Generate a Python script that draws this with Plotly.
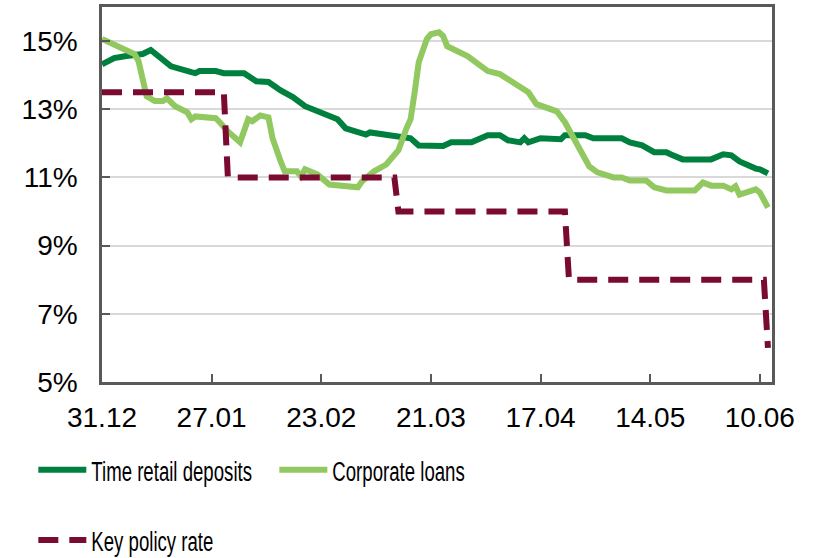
import plotly.graph_objects as go

# Time retail deposits, % (observation dates and values)
deposit_dates = [
    "2019-12-31", "2020-01-03", "2020-01-06", "2020-01-10", "2020-01-12", "2020-01-15",
    "2020-01-17", "2020-01-22", "2020-01-23", "2020-01-24", "2020-01-28", "2020-01-30",
    "2020-02-04", "2020-02-07", "2020-02-10", "2020-02-13", "2020-02-16", "2020-02-19",
    "2020-02-24", "2020-02-27", "2020-02-29", "2020-03-03", "2020-03-05", "2020-03-06",
    "2020-03-11", "2020-03-13", "2020-03-16", "2020-03-18", "2020-03-24", "2020-03-26",
    "2020-03-31", "2020-04-04", "2020-04-07", "2020-04-09", "2020-04-12", "2020-04-13",
    "2020-04-14", "2020-04-17", "2020-04-22", "2020-04-23", "2020-04-28", "2020-04-30",
    "2020-05-07", "2020-05-09", "2020-05-12", "2020-05-15", "2020-05-18", "2020-05-19",
    "2020-05-22", "2020-05-29", "2020-06-01", "2020-06-03", "2020-06-05", "2020-06-09",
    "2020-06-10", "2020-06-12",
]
deposit_rates = [
    14.32, 14.50, 14.56, 14.62, 14.74, 14.45,
    14.26, 14.09, 14.06, 14.12, 14.12, 14.06,
    14.06, 13.82, 13.80, 13.55, 13.36, 13.09,
    12.85, 12.71, 12.44, 12.32, 12.26, 12.32,
    12.24, 12.18, 12.15, 11.94, 11.92, 12.03,
    12.03, 12.24, 12.24, 12.09, 12.03, 12.15,
    12.03, 12.15, 12.12, 12.24, 12.24, 12.15,
    12.15, 12.03, 11.94, 11.74, 11.74, 11.68,
    11.53, 11.53, 11.68, 11.65, 11.47, 11.26,
    11.24, 11.12,
]

# Corporate loans, %
loan_dates = [
    "2019-12-31", "2020-01-08", "2020-01-09", "2020-01-11", "2020-01-13", "2020-01-15",
    "2020-01-16", "2020-01-18", "2020-01-21", "2020-01-22", "2020-01-23", "2020-01-28",
    "2020-01-29", "2020-01-31", "2020-02-03", "2020-02-05", "2020-02-06", "2020-02-08",
    "2020-02-10", "2020-02-11", "2020-02-13", "2020-02-14", "2020-02-17", "2020-02-18",
    "2020-02-19", "2020-02-22", "2020-02-25", "2020-02-28", "2020-03-03", "2020-03-04",
    "2020-03-07", "2020-03-10", "2020-03-12", "2020-03-13", "2020-03-15", "2020-03-16",
    "2020-03-17", "2020-03-18", "2020-03-20", "2020-03-21", "2020-03-23", "2020-03-24",
    "2020-03-25", "2020-03-27", "2020-03-30", "2020-04-04", "2020-04-07", "2020-04-09",
    "2020-04-12", "2020-04-14", "2020-04-16", "2020-04-19", "2020-04-21", "2020-04-23",
    "2020-04-25", "2020-04-27", "2020-04-29", "2020-05-01", "2020-05-05", "2020-05-07",
    "2020-05-09", "2020-05-13", "2020-05-15", "2020-05-18", "2020-05-25", "2020-05-27",
    "2020-05-29", "2020-06-01", "2020-06-03", "2020-06-04", "2020-06-05", "2020-06-09",
    "2020-06-10", "2020-06-12",
]
loan_rates = [
    15.06, 14.62, 14.41, 13.38, 13.24, 13.24,
    13.32, 13.09, 12.91, 12.71, 12.79, 12.74,
    12.62, 12.35, 12.03, 12.71, 12.65, 12.82,
    12.76, 12.15, 11.47, 11.18, 11.18, 11.03,
    11.24, 11.09, 10.79, 10.76, 10.71, 10.88,
    11.18, 11.38, 11.62, 11.80, 12.45, 12.71,
    13.50, 14.38, 15.06, 15.20, 15.26, 15.15,
    14.85, 14.74, 14.56, 14.12, 14.03, 13.88,
    13.68, 13.50, 13.15, 13.00, 12.94, 12.62,
    12.21, 11.74, 11.32, 11.15, 11.00, 11.00,
    10.91, 10.91, 10.71, 10.62, 10.62, 10.85,
    10.76, 10.76, 10.65, 10.74, 10.50, 10.65,
    10.56, 10.12,
]

# Key policy rate, % (last day before and first day after each change)
policy_dates = [
    "2019-12-31", "2020-01-30", "2020-01-31", "2020-03-12", "2020-03-13",
    "2020-04-23", "2020-04-24", "2020-06-11", "2020-06-12",
]
policy_rates = [13.5, 13.5, 11.0, 11.0, 10.0, 10.0, 8.0, 8.0, 6.0]

# Axis ticks
x_tick_dates = ["2019-12-31", "2020-01-27", "2020-02-23", "2020-03-21",
                "2020-04-17", "2020-05-14", "2020-06-10"]
x_tick_labels = ["31.12", "27.01", "23.02", "21.03", "17.04", "14.05", "10.06"]
y_tick_values = [5, 7, 9, 11, 13, 15]
y_tick_labels = ["5%", "7%", "9%", "11%", "13%", "15%"]

DARK_GREEN = "#00803E"
LIGHT_GREEN = "#92C860"
MAROON = "#7A0A32"
AXIS_GREY = "#595959"
GRID_GREY = "#D9D9D9"
FONT = "Liberation Sans, Arial, sans-serif"

fig = go.Figure()
fig.add_trace(go.Scatter(
    x=deposit_dates, y=deposit_rates, mode="lines", name="Time retail deposits",
    line=dict(color=DARK_GREEN, width=6), legend="legend",
))
fig.add_trace(go.Scatter(
    x=loan_dates, y=loan_rates, mode="lines", name="Corporate loans",
    line=dict(color=LIGHT_GREEN, width=6), legend="legend",
))
fig.add_trace(go.Scatter(
    x=policy_dates, y=policy_rates, mode="lines", name="Key policy rate",
    line=dict(color=MAROON, width=6, dash="20px,11px"), legend="legend2",
))

legend_common = dict(
    orientation="h", xanchor="left", yanchor="middle",
    font=dict(family=FONT, size=28, color="#000000"),
    bgcolor="rgba(0,0,0,0)", itemwidth=48, entrywidthmode="pixels",
    entrywidth=178, tracegroupgap=0, itemclick=False, itemdoubleclick=False,
)

fig.update_layout(
    width=815, height=558,
    margin=dict(l=102, r=43, t=7, b=176, autoexpand=False),
    paper_bgcolor="white", plot_bgcolor="white",
    font=dict(family=FONT, size=28, color="#000000"),
    legend=dict(x=-0.1025, y=-0.235, **legend_common),
    legend2=dict(x=-0.1025, y=-0.422, **legend_common),
    xaxis=dict(
        type="date", range=["2019-12-31", "2020-06-13"],
        tickmode="array", tickvals=x_tick_dates, ticktext=x_tick_labels,
        ticks="inside", ticklen=8, tickwidth=2, tickcolor=AXIS_GREY,
        showline=True, linecolor=AXIS_GREY, linewidth=2.5, mirror=True,
        showgrid=False, zeroline=False,
        tickfont=dict(family=FONT, size=28, color="#000000"),
        ticklabelstandoff=9,
    ),
    yaxis=dict(
        range=[5, 16], tickmode="array", tickvals=y_tick_values, ticktext=y_tick_labels,
        ticks="inside", ticklen=8, tickwidth=2, tickcolor=AXIS_GREY,
        showline=True, linecolor=AXIS_GREY, linewidth=2.5, mirror=True,
        showgrid=True, gridcolor=GRID_GREY, gridwidth=1.5, zeroline=False,
        tickfont=dict(family=FONT, size=28, color="#000000"),
        ticklabelstandoff=16,
    ),
)

# Legend labels are set in a condensed face: a stylesheet rule squeezes the
# labels of both legends horizontally around their left edge.
condense_legend = """
var css = document.createElement('style');
css.textContent = 'text.legendtext, text.legend2text { transform-box: fill-box; ' +
    'transform-origin: 0% 50%; transform: scaleX(0.665); }';
document.head.appendChild(css);
"""

fig.write_html("out.html", post_script=condense_legend)
